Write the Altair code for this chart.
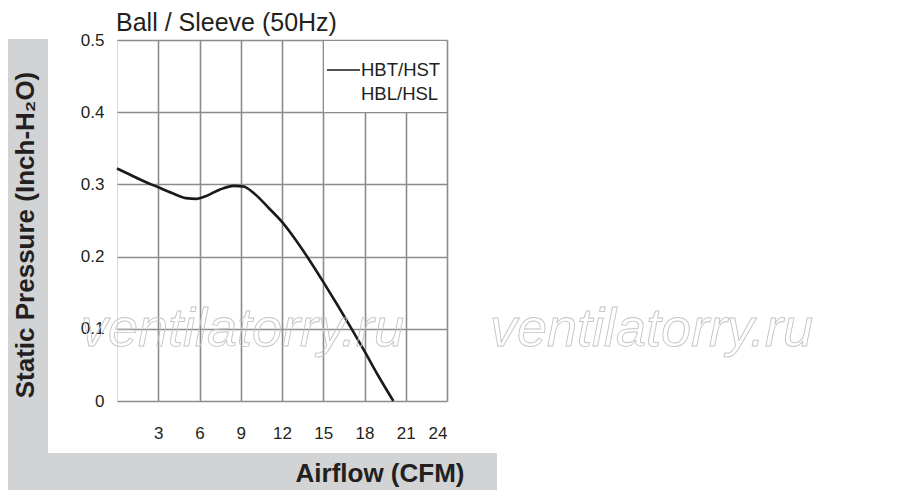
import altair as alt
import pandas as pd

# --- data ---
airflow = [0, 1, 2, 3, 4, 5, 5.8, 6.5, 7.5, 8.5, 9.2, 10, 11, 12, 13, 14, 15, 16, 17, 18, 19, 20.1]
pressure = [0.322, 0.313, 0.304, 0.296, 0.288, 0.281, 0.280, 0.284, 0.293, 0.298, 0.297,
            0.287, 0.268, 0.248, 0.223, 0.195, 0.165, 0.134, 0.102, 0.069, 0.035, 0.0]
x_ticks = [3, 6, 9, 12, 15, 18, 21, 24]
y_ticks = [0, 0.1, 0.2, 0.3, 0.4, 0.5]
series_names = ["HBT/HST", "HBL/HSL"]
title_text = "Ball / Sleeve (50Hz)"
x_title = "Airflow (CFM)"
y_title = "Static Pressure (Inch-H\u2082O)"
watermark = "ventilatorry.ru"

FONT = "Liberation Sans"
TXT = "#231f20"
GRID = "#8c8c8c"
BAND = "#d1d3d4"

W, H = 330, 361
one = pd.DataFrame({"k": [0]})

df = pd.DataFrame({"airflow": airflow, "pressure": pressure})

line = alt.Chart(df).mark_line(color="#1a1a1a", strokeWidth=2.6, interpolate="monotone").encode(
    x=alt.X("airflow:Q", scale=alt.Scale(domain=[0, 24], nice=False, zero=False),
            axis=alt.Axis(values=x_ticks, title=None, grid=True, gridColor=GRID, gridWidth=1.6,
                          gridOpacity=1, domain=False, ticks=False, labelFontSize=17,
                          labelFont=FONT, labelColor=TXT, labelPadding=24)),
    y=alt.Y("pressure:Q", scale=alt.Scale(domain=[0, 0.5], nice=False),
            axis=alt.Axis(values=y_ticks, title=None, grid=True, gridColor=GRID, gridWidth=1.6,
                          gridOpacity=1, domain=False, ticks=False, labelFontSize=17,
                          labelFont=FONT, labelColor=TXT, labelPadding=13,
                          labelExpr="datum.value == 0 ? '0' : format(datum.value, '.1f')")),
)

band_left = alt.Chart(one).mark_rect(color=BAND).encode(
    x=alt.value(-109), x2=alt.value(-69), y=alt.value(-1), y2=alt.value(450))
band_bottom = alt.Chart(one).mark_rect(color=BAND).encode(
    x=alt.value(-109), x2=alt.value(380), y=alt.value(413), y2=alt.value(450))

legend_box = alt.Chart(one).mark_rect(color="white").encode(
    x=alt.value(207), x2=alt.value(329), y=alt.value(1), y2=alt.value(72))
legend_line = alt.Chart(one).mark_rule(color="#1a1a1a", strokeWidth=1.7).encode(
    x=alt.value(210), x2=alt.value(243), y=alt.value(30))
legend_t1 = alt.Chart(one).mark_text(text=series_names[0], font=FONT, fontSize=18.5, color=TXT,
                                     align="left", baseline="middle").encode(
    x=alt.value(244), y=alt.value(30))
legend_t2 = alt.Chart(one).mark_text(text=series_names[1], font=FONT, fontSize=18.5, color=TXT,
                                     align="left", baseline="middle").encode(
    x=alt.value(244), y=alt.value(54))

title = alt.Chart(one).mark_text(text=title_text, font=FONT, fontSize=25, color=TXT,
                                 align="left", baseline="alphabetic").encode(
    x=alt.value(-1), y=alt.value(-9))
ytitle = alt.Chart(one).mark_text(text=y_title, font=FONT, fontSize=26, fontWeight="bold",
                                  color=TXT, angle=270, align="center", baseline="middle").encode(
    x=alt.value(-91), y=alt.value(195))
xtitle = alt.Chart(one).mark_text(text=x_title, font=FONT, fontSize=26, fontWeight="bold",
                                  color=TXT, align="center", baseline="middle").encode(
    x=alt.value(263), y=alt.value(434))

wm_style = dict(font=FONT, fontSize=54, fontStyle="italic", fill="white", fillOpacity=0,
                stroke="#c4c4c4", strokeWidth=0.9, align="left", baseline="alphabetic")
wm1 = alt.Chart(one).mark_text(text=watermark, **wm_style).encode(
    x=alt.value(-36), y=alt.value(306))
wm2 = alt.Chart(one).mark_text(text=watermark, **wm_style).encode(
    x=alt.value(373), y=alt.value(306))

chart = alt.layer(
    band_left, band_bottom, line, legend_box, legend_line, legend_t1, legend_t2,
    title, ytitle, xtitle, wm1, wm2
).properties(
    width=W, height=H,
    autosize=alt.AutoSizeParams(type="none"),
    padding={"left": 109, "top": 32, "right": 437, "bottom": 89},
).configure_view(
    stroke=GRID, strokeWidth=2
).configure(background="white")

chart.save("out.html", embed_options={"renderer": "svg", "actions": False})
